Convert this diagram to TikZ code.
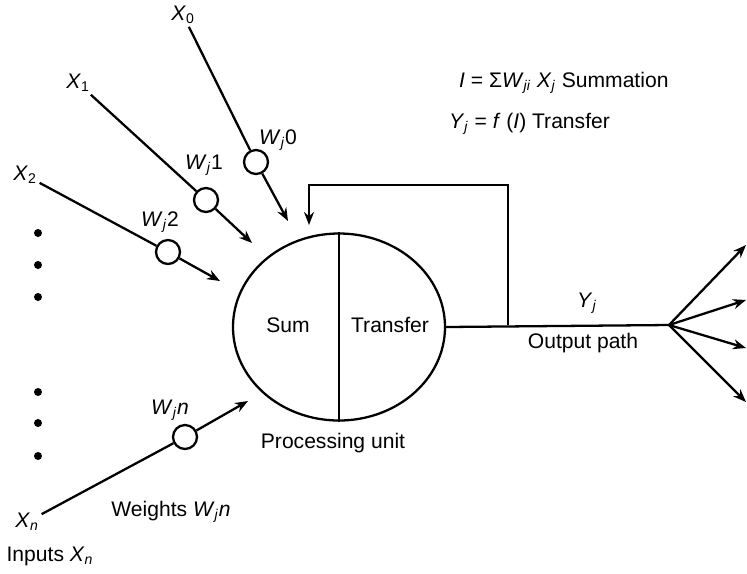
\documentclass[tikz,border=0pt]{standalone}
\usepackage{fontspec}
\setmainfont{Liberation Sans}
\usetikzlibrary{arrows.meta, shapes.geometric}
\newcommand{\wt}[1]{\textit{W}\textsubscript{\textit{j}}#1}

\begin{document}
\begin{tikzpicture}[x=0.2mm, y=-0.2mm, line width=1.3pt, font=\fontsize{12}{14}\selectfont,
    arr/.style={-{Stealth[length=2.6mm, width=2mm]}},
    weight/.style={circle, draw, fill=white, minimum size=4.8mm, inner sep=0pt},
    txt/.style={inner sep=1pt}]
    \useasboundingbox (0,0) rectangle (747,573);

    % 1. Processing unit (Sum | Transfer)
    \node[ellipse, draw, minimum width=42.4mm, minimum height=37.4mm, inner sep=0pt] (unit) at (339,327) {};
    \draw (unit.north) -- (unit.south);
    \node (sum) at (288,325) {Sum};
    \node (transfer) at (390,325) {Transfer};
    \node (unitlbl) at (333,443) {Processing unit};

    % 2. Inputs, weights and arrow tips
    \node[txt] (X0) at (183,15) {\textit{X}\textsubscript{0}};
    \node[txt] (X1) at (78,83) {\textit{X}\textsubscript{1}};
    \node[txt] (X2) at (25,175) {\textit{X}\textsubscript{2}};
    \node[txt] (Xn) at (27,522) {\textit{X}\textsubscript{\textit{n}}};

    \node[weight] (W0) at (256,162) {};
    \node[weight] (W1) at (206,200) {};
    \node[weight] (W2) at (168,252) {};
    \node[weight] (Wn) at (185,437) {};

    \coordinate (t0) at (288,221);
    \coordinate (t1) at (252,243);
    \coordinate (t2) at (220,281);
    \coordinate (tn) at (248,401);

    \draw (X0) -- (W0);
    \draw[arr] (W0) -- (t0);
    \draw (X1) -- (W1);
    \draw[arr] (W1) -- (t1);
    \draw (X2) -- (W2);
    \draw[arr] (W2) -- (t2);
    \draw (Xn) -- (Wn);
    \draw[arr] (Wn) -- (tn);

    % weight labels
    \node (w0lbl) at (278,140) {\wt{0}};
    \node (w1lbl) at (204,165) {\wt{1}};
    \node (w2lbl) at (160,222) {\wt{2}};
    \node (wnlbl) at (170,410) {\wt{\textit{n}}};

    % dots between X2 and Xn
    \foreach \y in {233,265,297,392,423,456}
        \fill (38,\y) circle (0.8mm);

    % 3. Output path and feedback loop
    \coordinate (fb) at (508,325);
    \coordinate (fbtop) at (508,185);
    \coordinate (fbtip) at (309,225);
    \coordinate (fan) at (669,325);
    \draw (unit.east) -- (fan);
    \draw[arr] (fb) -- (fbtop) -| (fbtip);

    \coordinate (o1) at (746,245);
    \coordinate (o2) at (746,300);
    \coordinate (o3) at (746,348);
    \coordinate (o4) at (746,402);
    \draw[arr] (fan) -- (o1);
    \draw[arr] (fan) -- (o2);
    \draw[arr] (fan) -- (o3);
    \draw[arr] (fan) -- (o4);

    % 4. Labels
    \node (yj) at (587,303) {\textit{Y}\textsubscript{\textit{j}}};
    \node (outlbl) at (583,343) {Output path};
    \node[anchor=base west, inner sep=0pt] (sumeq) at (458,87)
        {\textit{I} = Σ\textit{W}\textsubscript{\textit{ji}} \textit{X}\textsubscript{\textit{j}} Summation};
    \node[anchor=base west, inner sep=0pt] (transeq) at (448,128)
        {\textit{Y}\textsubscript{\textit{j}} = \textit{f} (\textit{I}) Transfer};
    \node (wlbl) at (171,512) {Weights \wt{\textit{n}}};
    \node (inlbl) at (50,556) {Inputs \textit{X}\textsubscript{\textit{n}}};

\end{tikzpicture}
\end{document}
